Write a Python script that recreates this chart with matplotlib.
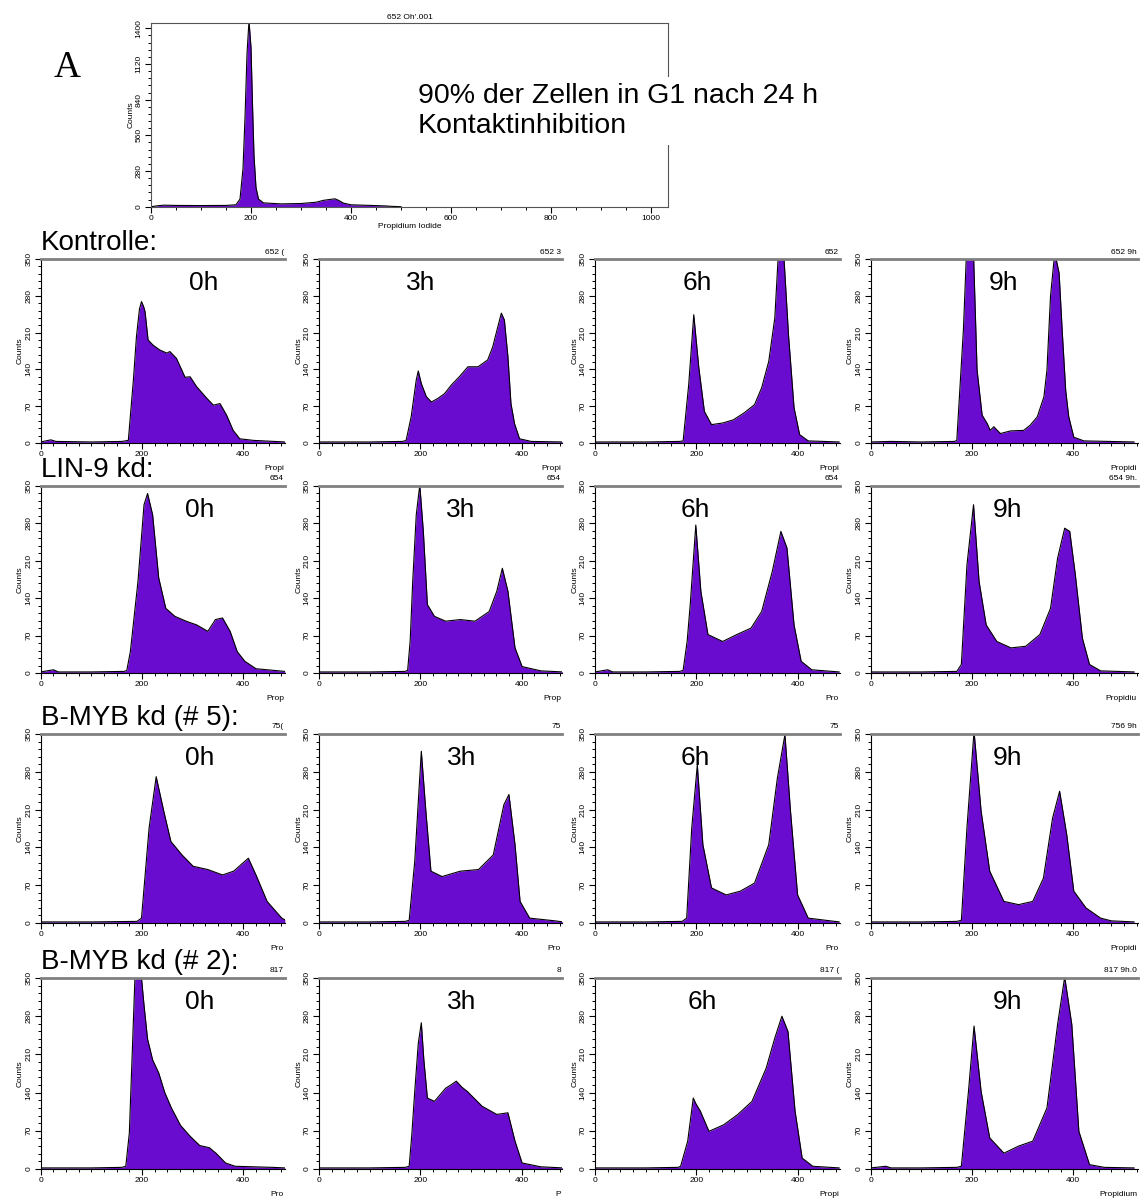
import matplotlib
matplotlib.use("Agg")
import matplotlib.pyplot as plt
from matplotlib.ticker import MultipleLocator

plt.rcParams['font.family'] = ['Liberation Sans', 'DejaVu Sans']

# (channel, counts)
top_hist = [(0, 0), (15, 8), (25, 12), (50, 10), (100, 9), (150, 10), (170, 15), (178, 60), (184, 300),
            (188, 700), (192, 1200), (196, 1460), (200, 1250), (203, 800), (206, 400), (210, 150),
            (215, 60), (225, 30), (260, 22), (300, 25), (330, 35), (345, 50), (360, 58), (368, 62),
            (375, 50), (385, 28), (400, 15), (440, 10), (470, 6), (480, 3), (500, 0)]

kon_0h = [(0, 2), (20, 6), (30, 3), (100, 2), (160, 3), (173, 5), (183, 120), (189, 202), (195, 255),
          (199, 269), (203, 260), (206, 250), (212, 196), (222, 186), (235, 177), (249, 171), (255, 174),
          (268, 161), (285, 125), (295, 126), (308, 107), (328, 85), (341, 72), (354, 75), (367, 53),
          (380, 24), (393, 8), (420, 5), (482, 2)]
kon_3h = [(0, 2), (100, 2), (165, 3), (172, 5), (182, 50), (192, 120), (196, 137), (202, 113), (212, 88),
          (222, 78), (235, 85), (248, 94), (261, 110), (277, 126), (294, 145), (314, 145), (333, 158),
          (343, 183), (353, 221), (360, 247), (366, 234), (373, 164), (379, 75), (386, 37), (396, 8),
          (419, 3), (482, 2)]
kon_6h = [(0, 2), (100, 2), (167, 3), (174, 4), (185, 111), (195, 244), (205, 143), (216, 60), (230, 35),
          (252, 38), (273, 44), (294, 57), (315, 73), (329, 105), (343, 155), (355, 238), (362, 360),
          (372, 370), (382, 206), (393, 67), (404, 16), (421, 4), (482, 2)]
kon_9h = [(0, 2), (40, 3), (100, 2), (165, 3), (170, 5), (183, 215), (189, 360), (196, 380), (203, 360),
          (210, 139), (220, 53), (230, 37), (236, 24), (243, 31), (256, 18), (276, 23), (302, 24),
          (315, 34), (329, 50), (342, 88), (348, 139), (355, 279), (362, 349), (365, 355), (372, 323),
          (378, 215), (385, 100), (391, 50), (401, 11), (421, 4), (520, 2)]

lin_0h = [(0, 2), (25, 6), (35, 2), (100, 2), (165, 3), (170, 5), (177, 40), (192, 171), (204, 315),
          (211, 336), (221, 296), (233, 178), (247, 121), (265, 106), (287, 97), (308, 90), (330, 78),
          (345, 100), (359, 103), (374, 78), (388, 40), (403, 22), (425, 8), (482, 3)]
lin_3h = [(0, 2), (100, 2), (170, 3), (175, 5), (180, 60), (185, 171), (192, 296), (199, 352), (206, 265),
          (214, 128), (228, 106), (250, 97), (279, 100), (308, 97), (336, 115), (351, 153), (362, 196),
          (373, 153), (387, 47), (401, 12), (438, 4), (482, 2)]
lin_6h = [(0, 2), (25, 6), (35, 2), (100, 2), (167, 3), (174, 5), (182, 60), (188, 128), (199, 277),
          (209, 153), (223, 72), (252, 59), (280, 72), (308, 84), (329, 115), (350, 190), (367, 265),
          (379, 234), (393, 90), (407, 22), (428, 6), (482, 2)]
lin_9h = [(0, 2), (100, 2), (170, 3), (179, 16), (190, 202), (203, 315), (214, 171), (228, 90), (249, 59),
          (277, 47), (306, 50), (334, 72), (355, 121), (369, 215), (383, 271), (393, 265), (404, 184),
          (418, 65), (432, 16), (454, 4), (520, 2)]

myb5_0h = [(0, 2), (100, 2), (190, 3), (199, 9), (214, 176), (228, 271), (243, 207), (257, 151), (279, 126),
           (301, 105), (330, 99), (359, 89), (381, 96), (410, 120), (425, 89), (447, 40), (476, 9), (482, 6)]
myb5_3h = [(0, 2), (100, 2), (170, 3), (178, 5), (189, 114), (202, 318), (211, 207), (221, 96), (243, 86),
           (279, 96), (315, 99), (344, 126), (365, 219), (375, 238), (387, 145), (397, 40), (416, 9),
           (466, 4), (482, 2)]
myb5_6h = [(0, 2), (100, 2), (172, 3), (181, 9), (191, 176), (202, 293), (213, 145), (230, 65), (259, 52),
           (287, 59), (315, 74), (343, 145), (360, 268), (375, 349), (386, 207), (400, 52), (421, 9), (482, 2)]
myb5_9h = [(0, 2), (100, 2), (170, 3), (179, 5), (190, 176), (204, 355), (218, 207), (235, 96), (263, 40),
           (292, 34), (320, 40), (341, 83), (359, 194), (373, 244), (387, 164), (401, 59), (425, 28),
           (454, 9), (475, 4), (520, 2)]

myb2_0h = [(0, 2), (100, 2), (160, 3), (168, 5), (175, 66), (181, 220), (186, 349), (192, 400), (198, 360),
           (204, 300), (211, 238), (221, 200), (233, 176), (245, 140), (258, 112), (276, 80), (295, 60),
           (314, 43), (333, 39), (346, 29), (365, 11), (384, 5), (458, 3), (482, 2)]
myb2_3h = [(0, 2), (100, 2), (170, 3), (178, 5), (183, 60), (189, 142), (196, 230), (202, 268), (207, 200),
           (214, 130), (228, 124), (250, 148), (262, 155), (271, 161), (282, 150), (293, 142), (322, 115),
           (351, 100), (373, 103), (387, 51), (401, 11), (438, 4), (482, 2)]
myb2_6h = [(0, 2), (100, 2), (164, 3), (169, 5), (183, 51), (194, 130), (199, 120), (208, 106), (225, 69),
           (254, 81), (282, 100), (310, 124), (338, 185), (355, 240), (369, 280), (381, 252), (395, 106),
           (409, 20), (430, 5), (482, 2)]
myb2_9h = [(0, 2), (30, 5), (40, 2), (100, 2), (170, 3), (179, 5), (193, 142), (204, 262), (218, 142),
           (235, 57), (263, 29), (292, 42), (320, 51), (348, 112), (369, 265), (383, 352), (397, 265),
           (411, 69), (432, 8), (461, 3), (520, 2)]

row_names = ['Kontrolle:', 'LIN-9 kd:', 'B-MYB kd (# 5):', 'B-MYB kd (# 2):']
times = ['0h', '3h', '6h', '9h']
grid = [[kon_0h, kon_3h, kon_6h, kon_9h],
        [lin_0h, lin_3h, lin_6h, lin_9h],
        [myb5_0h, myb5_3h, myb5_6h, myb5_9h],
        [myb2_0h, myb2_3h, myb2_6h, myb2_9h]]
# file names, cut off by the neighbouring screenshot
titles = [['652 (', '652 3', '652', '652 9h'],
          ['654', '654', '654', '654 9h.'],
          ['75(', '75', '75', '756 9h'],
          ['817', '8', '817 (', '817 9h.0']]
xlabels = [['Propi', 'Propi', 'Propi', 'Propidi'],
           ['Prop', 'Prop', 'Pro', 'Propidiu'],
           ['Pro', 'Pro', 'Pro', 'Propidi'],
           ['Pro', 'P', 'Propi', 'Propidium']]

W, H = 1147, 1202
PURPLE = '#6a0bd0'
PX_PER_CH = 0.5065

col_left = [40.7, 319, 595, 870.7]
col_right = [285, 562, 840, 1138]
row_top = [259, 486, 734, 978]
row_bot = [443, 673, 923, 1169]
time_x = [[204, 421, 697, 1004], [200, 461, 695, 1007], [200, 462, 695, 1007], [200, 462, 702, 1007]]

fig = plt.figure(figsize=(W / 100, H / 100), dpi=100)


def box(left, top, right, bottom):
    return [left / W, 1 - bottom / H, (right - left) / W, (bottom - top) / H]


def fx(x):
    return x / W


def fy(y):
    return 1 - y / H


def draw_hist(ax, hist):
    ch = [p[0] for p in hist]
    n = [p[1] for p in hist]
    ax.fill_between(ch, n, color=PURPLE, lw=0)
    ax.plot(ch, n, color='black', lw=0.8)


# top overview histogram
ax = fig.add_axes(box(151, 22.7, 668, 206.7))
draw_hist(ax, top_hist)
ax.set_xlim(0, 1034)
ax.set_ylim(0, 1444)
ax.set_xticks(range(0, 1001, 200))
ax.set_yticks(range(0, 1401, 280))
ax.xaxis.set_minor_locator(MultipleLocator(50))
ax.yaxis.set_minor_locator(MultipleLocator(56))
ax.tick_params(labelsize=6, length=4, width=0.8, pad=2)
ax.tick_params(which='minor', length=2.5, width=0.7)
ax.tick_params(axis='y', labelrotation=90)
for lab in ax.get_yticklabels():
    lab.set_va('center')
for s in ax.spines.values():
    s.set_color('#555555')
ax.set_title("652 Oh'.001", fontsize=6, pad=3)
ax.set_xlabel('Propidium Iodide', fontsize=6, labelpad=1)
ax.set_ylabel('Counts', fontsize=6, labelpad=1)

fig.text(fx(67), fy(68), 'A', family='Liberation Serif', fontsize=27, ha='center', va='center')
fig.text(fx(418), fy(111), '90% der Zellen in G1 nach 24 h\nKontaktinhibition', fontsize=20.5,
         ha='left', va='center', linespacing=1.2,
         bbox=dict(facecolor='white', edgecolor='none', pad=4))

# small histograms
for r in range(4):
    for c in range(4):
        ax = fig.add_axes(box(col_left[c], row_top[r], col_right[c], row_bot[r]))
        draw_hist(ax, grid[r][c])
        ax.set_xlim(0, (col_right[c] - col_left[c]) / PX_PER_CH)
        ax.set_ylim(0, 350)
        ax.spines['right'].set_visible(False)
        ax.spines['top'].set_color('#808080')
        ax.spines['top'].set_linewidth(2)
        ax.set_xticks([0, 200, 400])
        ax.set_yticks(range(0, 351, 70))
        ax.xaxis.set_minor_locator(MultipleLocator(25))
        ax.yaxis.set_minor_locator(MultipleLocator(14))
        ax.tick_params(labelsize=6, length=4, width=0.8, pad=2)
        ax.tick_params(which='minor', length=2.5, width=0.7)
        ax.tick_params(axis='y', labelrotation=90)
        for lab in ax.get_yticklabels():
            lab.set_va('center')
        ax.set_ylabel('Counts', fontsize=6, labelpad=1)
        ax.patch.set_alpha(0)

        fig.text(fx(col_right[c] - 1), fy(row_top[r] - 7), titles[r][c], fontsize=6,
                 ha='right', va='center')
        fig.text(fx(col_right[c] - 1), fy(row_bot[r] + 25), xlabels[r][c], fontsize=6,
                 ha='right', va='center')
        fig.text(fx(time_x[r][c]), fy(row_top[r] + 31), times[c], fontsize=19,
                 ha='center', va='baseline')

    fig.text(fx(40.7), fy(row_top[r] - 9), row_names[r], fontsize=20, ha='left', va='baseline')

fig.savefig('out.png', dpi=100)
